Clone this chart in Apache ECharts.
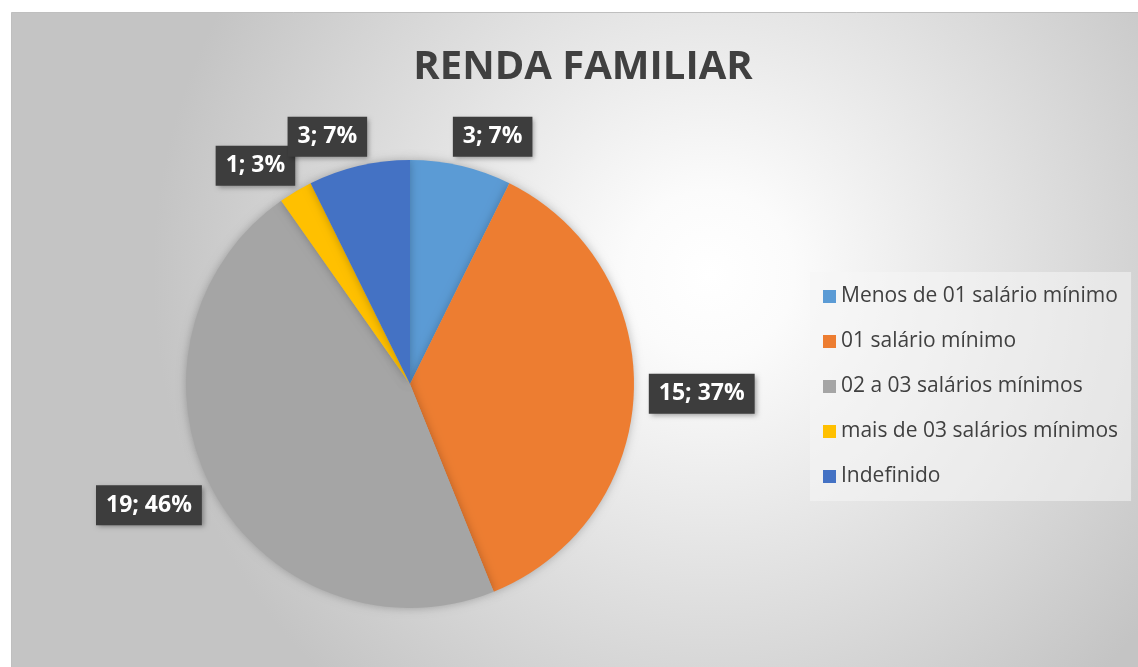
<!DOCTYPE html>
<html>
<head>
<meta charset="utf-8">
<script src="https://cdn.jsdelivr.net/npm/echarts@6/dist/echarts.min.js"></script>
<style>
  html, body { margin: 0; padding: 0; background: #fff; }
  #chart { width: 1138px; height: 667px; }
</style>
</head>
<body>
<div id="chart"></div>
<script>
// dados
const categories = [
  'Menos de 01 salário mínimo',
  '01 salário mínimo',
  '02 a 03 salários mínimos',
  'mais de 03 salários mínimos',
  'Indefinido'
]
const counts = [3, 15, 19, 1, 3]
const pctLabels = ['7%', '37%', '46%', '3%', '7%']
const colors = ['#5B9BD5', '#ED7D31', '#A5A5A5', '#FFC000', '#4472C4']

const chart = echarts.init(document.getElementById('chart'))

const option = {
  animation: false,
  color: colors,
  // fundo da área do gráfico (gradiente radial)
  graphic: [
    {
      type: 'rect',
      left: 11,
      top: 12,
      z: -10,
      shape: { x: 0, y: 0, width: 1127, height: 655 },
      style: {
        fill: new echarts.graphic.RadialGradient(0.62, 0.4, 0.85, [
          { offset: 0, color: '#ffffff' },
          { offset: 0.15, color: '#fbfbfb' },
          { offset: 1, color: '#c4c4c4' }
        ]),
        stroke: '#bfbfbf',
        lineWidth: 1
      }
    }
  ],
  title: {
    text: 'RENDA FAMILIAR',
    left: 578,
    top: 43,
    textAlign: 'center',
    textStyle: {
      fontFamily: 'Open Sans',
      fontWeight: 'bold',
      fontSize: 40,
      color: '#404040'
    }
  },
  legend: {
    orient: 'vertical',
    left: 810,
    top: 272,
    padding: [14, 13, 14, 13],
    itemGap: 24,
    itemWidth: 13,
    itemHeight: 13,
    icon: 'rect',
    backgroundColor: 'rgba(246,246,246,0.55)',
    data: categories,
    textStyle: {
      fontFamily: 'Open Sans',
      fontSize: 21,
      color: '#404040'
    }
  },
  series: [
    {
      type: 'pie',
      center: [410, 384],
      radius: 224,
      startAngle: 90,
      clockwise: true,
      avoidLabelOverlap: false,
      labelLayout: { hideOverlap: false },
      itemStyle: {
        borderWidth: 0,
        shadowBlur: 10,
        shadowColor: 'rgba(0,0,0,0.25)'
      },
      emphasis: { disabled: true },
      label: {
        show: true,
        position: 'outside',
        distanceToLabelLine: -15,
        formatter: (p) => `${p.value}; ${pctLabels[p.dataIndex]}`,
        fontFamily: 'Open Sans',
        fontWeight: 'bold',
        fontSize: 23,
        color: '#ffffff',
        backgroundColor: '#3d3d3d',
        padding: [9, 10, 8, 10],
        shadowBlur: 5,
        shadowOffsetX: 2,
        shadowOffsetY: 2,
        shadowColor: 'rgba(0,0,0,0.35)'
      },
      labelLine: { show: false, length: 30, length2: 0 },
      data: categories.map((name, i) => ({ name, value: counts[i] }))
    }
  ]
}

chart.setOption(option)
</script>
</body>
</html>
